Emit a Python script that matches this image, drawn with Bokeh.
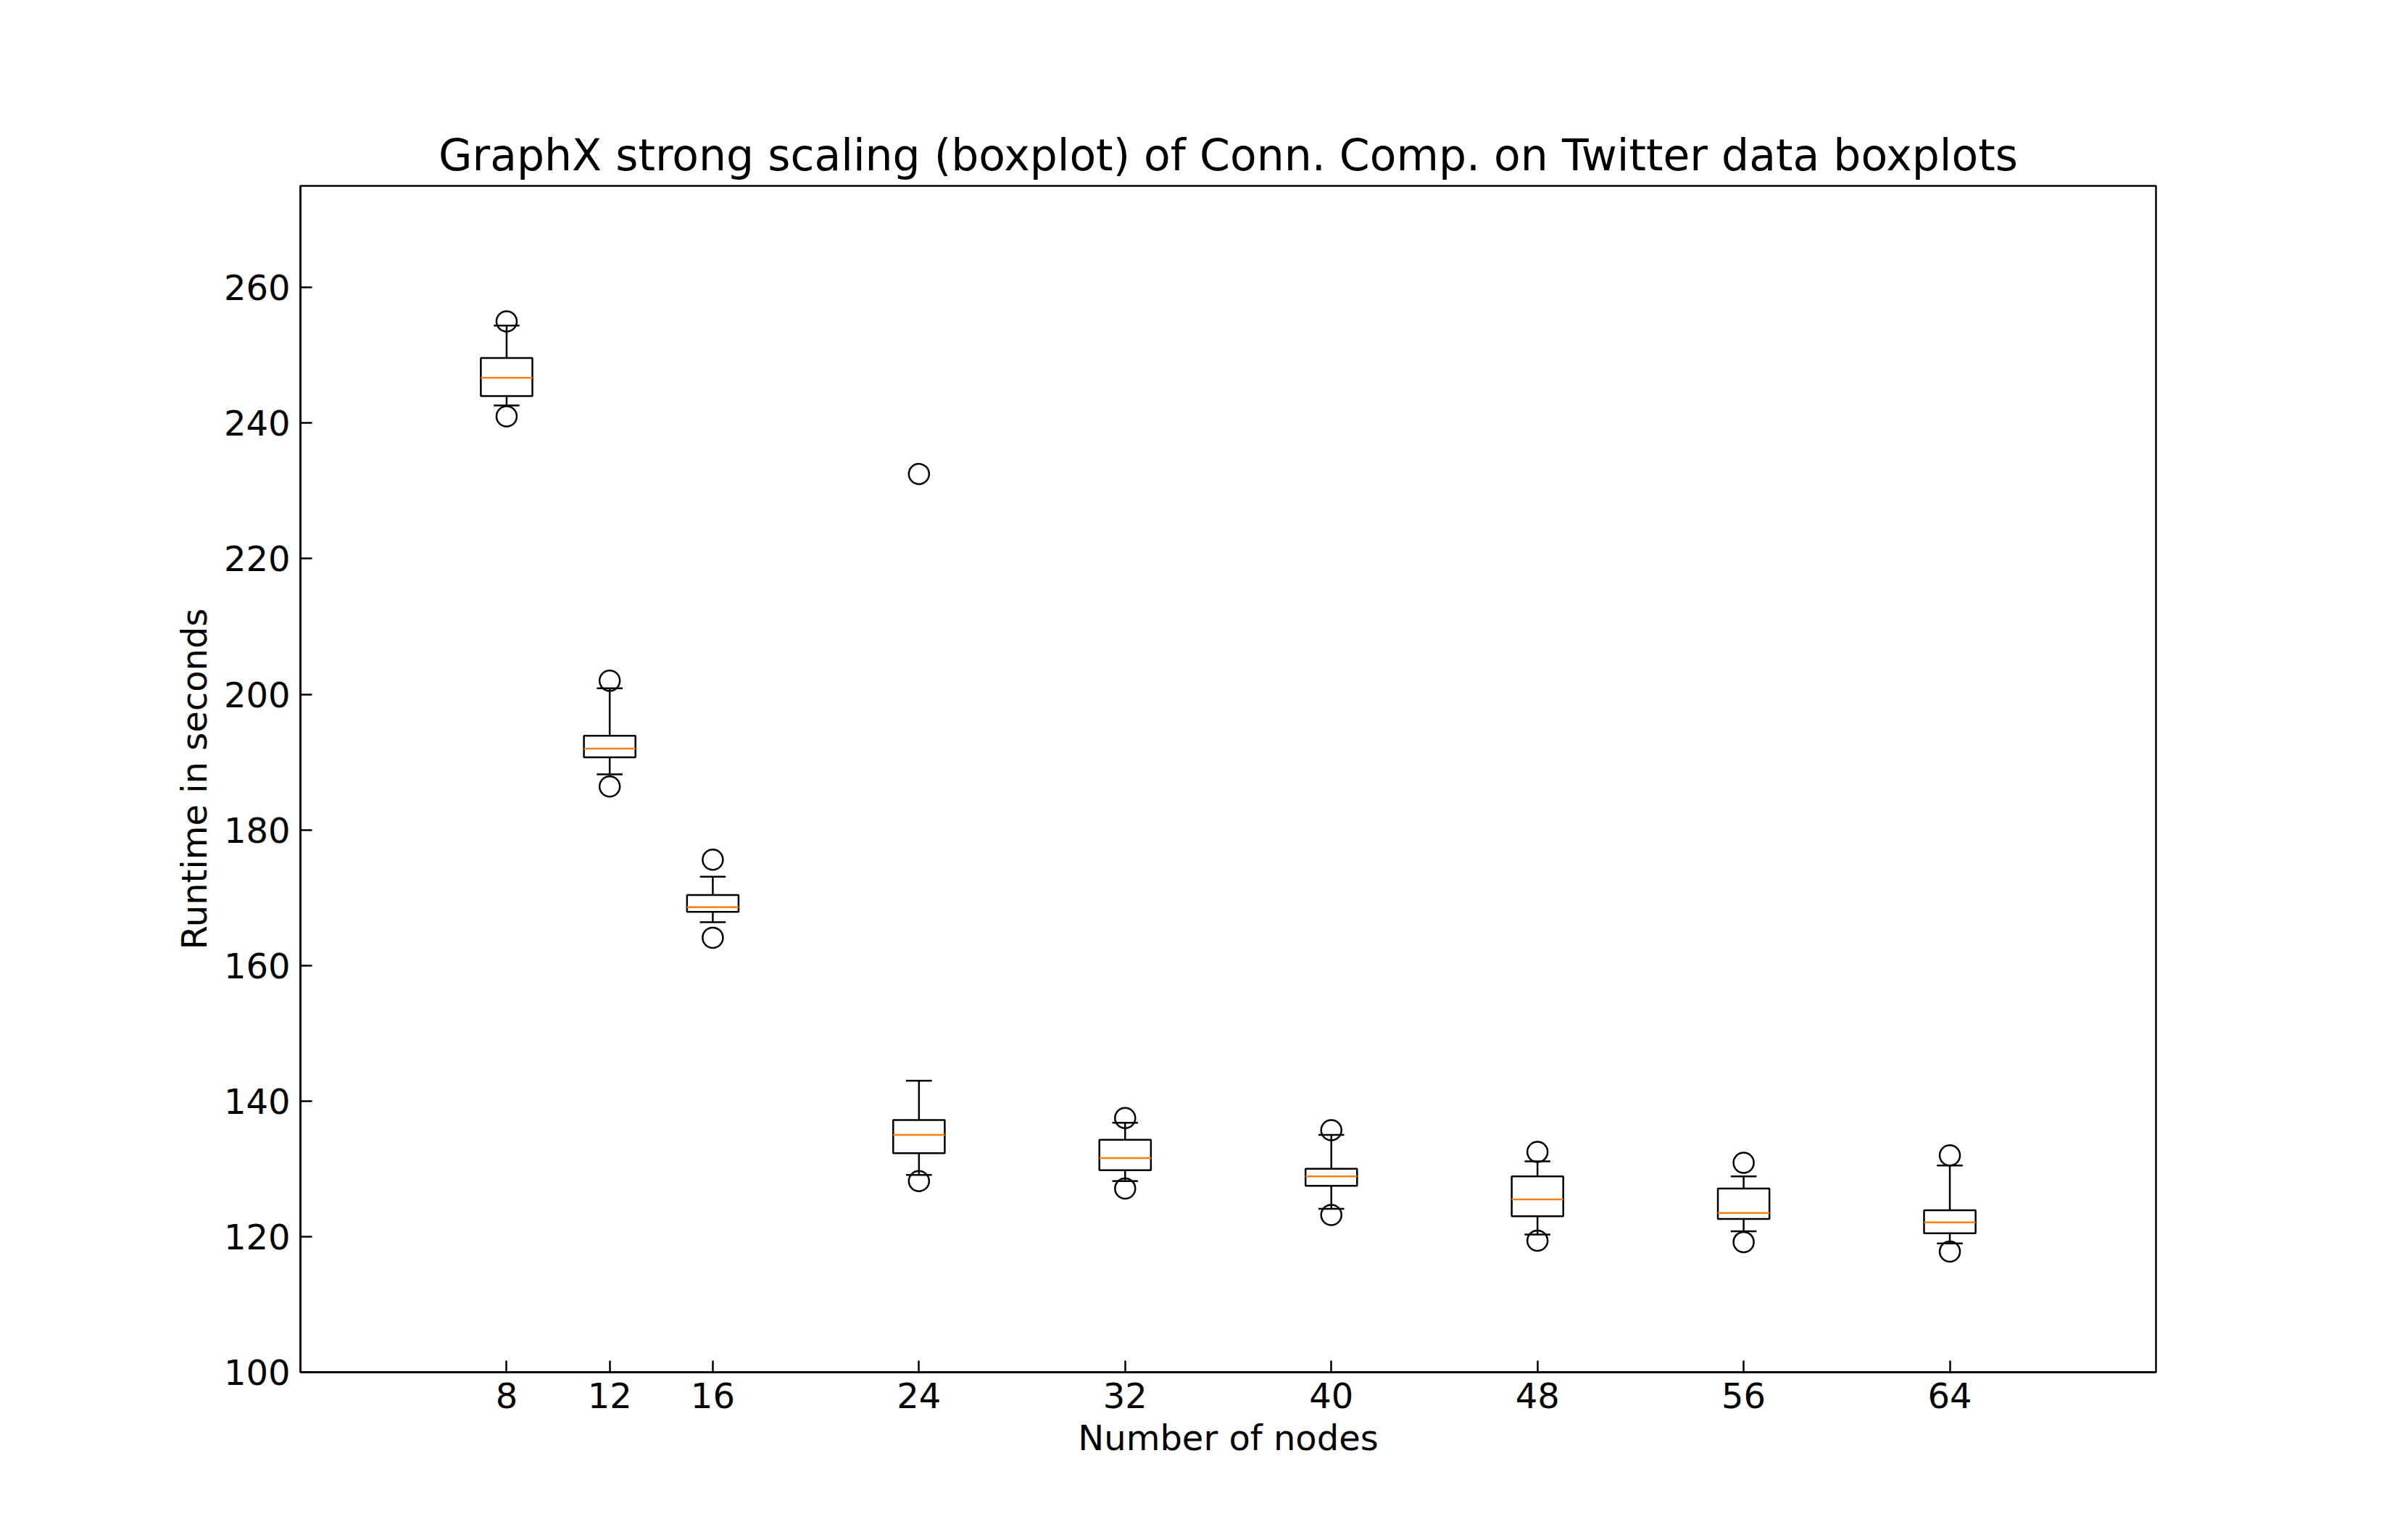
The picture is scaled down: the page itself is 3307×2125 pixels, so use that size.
from bokeh.plotting import figure
from bokeh.models import FixedTicker, Range1d
from bokeh.embed import file_html
from bokeh.resources import INLINE

# values
nodes = [8, 12, 16, 24, 32, 40, 48, 56, 64]
whisker_low = [242.6, 188.2, 166.4, 129.1, 128.2, 124.1, 120.3, 120.8, 119.0]
q1 = [244.0, 190.7, 167.9, 132.3, 129.8, 127.5, 123.0, 122.6, 120.5]
median = [246.7, 192.0, 168.6, 135.0, 131.6, 128.9, 125.5, 123.5, 122.1]
q3 = [249.6, 193.9, 170.4, 137.2, 134.3, 130.0, 128.9, 127.1, 123.9]
whisker_high = [254.4, 200.9, 173.1, 143.0, 136.8, 135.0, 131.1, 128.9, 130.5]
outlier_x = [8, 8, 12, 12, 16, 16, 24, 24, 32, 32, 40, 40, 48, 48, 56, 56, 64, 64]
outlier_y = [255.0, 241.0, 202.0, 186.4, 175.6, 164.1, 232.5, 128.2, 137.5, 127.1,
             135.7, 123.2, 132.5, 119.4, 130.9, 119.2, 132.0, 117.8]

box_half = 1.0
cap_half = 0.5

p = figure(width=3291, height=2109, output_backend="svg", toolbar_location=None,
           x_range=Range1d(0, 72), y_range=Range1d(100, 275),
           min_border_left=414, min_border_right=317, min_border_top=256, min_border_bottom=216,
           title="GraphX strong scaling (boxplot) of Conn. Comp. on Twitter data boxplots")

p.title.align = "center"
p.title.text_font = "DejaVu Sans"
p.title.text_font_size = "60px"
p.title.text_font_style = "normal"
p.title.text_color = "black"
p.title.standoff = 16

p.outline_line_color = "black"
p.outline_line_width = 2.5
p.grid.visible = False

for ax in (p.xaxis, p.yaxis):
    ax.major_tick_in = 16
    ax.major_tick_out = 0
    ax.minor_tick_line_color = None
    ax.major_tick_line_width = 2.5
    ax.major_tick_line_color = "black"
    ax.axis_line_width = 2.5
    ax.axis_line_color = "black"
    ax.major_label_text_font = "DejaVu Sans"
    ax.major_label_text_font_size = "48px"
    ax.major_label_text_color = "black"
    ax.axis_label_text_font = "DejaVu Sans"
    ax.axis_label_text_font_size = "48px"
    ax.axis_label_text_font_style = "normal"
    ax.axis_label_text_color = "black"
    ax.major_label_standoff = 14
    ax.axis_label_standoff = 10

p.xaxis.ticker = FixedTicker(ticks=nodes)
p.yaxis.ticker = FixedTicker(ticks=list(range(100, 261, 20)))
p.xaxis.axis_label = "Number of nodes"
p.yaxis.axis_label = "Runtime in seconds"

left = [n - box_half for n in nodes]
right = [n + box_half for n in nodes]
cl = [n - cap_half for n in nodes]
cr = [n + cap_half for n in nodes]

p.segment(nodes, q3, nodes, whisker_high, line_color="black", line_width=2.5)
p.segment(nodes, q1, nodes, whisker_low, line_color="black", line_width=2.5)
p.segment(cl, whisker_high, cr, whisker_high, line_color="black", line_width=2.5)
p.segment(cl, whisker_low, cr, whisker_low, line_color="black", line_width=2.5)
p.quad(left=left, right=right, bottom=q1, top=q3, fill_color=None,
       line_color="black", line_width=2.5)
p.segment(left, median, right, median, line_color="#ff7f0e", line_width=2.5)
p.scatter(outlier_x, outlier_y, size=28, fill_color=None, line_color="black", line_width=2.5)

open("out.html", "w").write(file_html(p, INLINE))
